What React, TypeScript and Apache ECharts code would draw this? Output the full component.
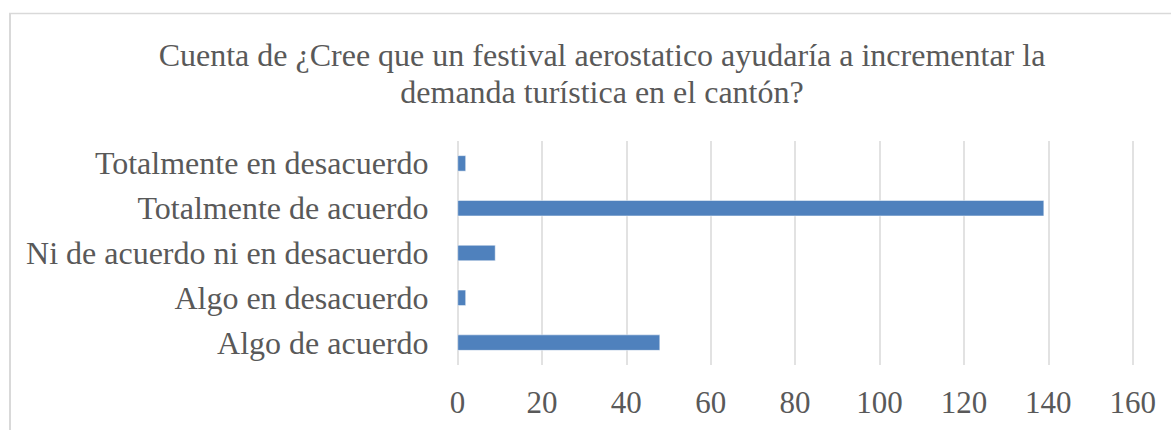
import React, { useEffect, useRef } from "react";
import * as echarts from "echarts";

const titleLines = [
  "Cuenta de ¿Cree que un festival aerostatico ayudaría a incrementar la",
  "demanda turística en el cantón?",
];
const categories = [
  "Totalmente en desacuerdo",
  "Totalmente de acuerdo",
  "Ni de acuerdo ni en desacuerdo",
  "Algo en desacuerdo",
  "Algo de acuerdo",
];
const counts = [2, 139, 9, 2, 48];
const axisMin = 0;
const axisMax = 160;
const axisStep = 20;

const FONT = "'Liberation Serif', 'Times New Roman', serif";
const TEXT = "#595959";
const GRID = "#d9d9d9";

export default function App() {
  const ref = useRef<HTMLDivElement>(null);
  useEffect(() => {
    if (!ref.current) return;
    const chart = echarts.init(ref.current, undefined, { renderer: "svg" });
    chart.setOption({
      animation: false,
      backgroundColor: "#ffffff",
      title: {
        text: titleLines.join("\n"),
        left: 597,
        top: 31,
        textAlign: "center",
        textStyle: {
          fontFamily: FONT,
          fontSize: 32,
          fontWeight: "normal",
          color: TEXT,
          lineHeight: 37,
        },
      },
      graphic: [
        {
          type: "line",
          shape: { x1: 10, y1: 13, x2: 10, y2: 430 },
          style: { stroke: GRID, lineWidth: 2 },
        },
        {
          type: "line",
          shape: { x1: 9, y1: 13.5, x2: 1171, y2: 13.5 },
          style: { stroke: GRID, lineWidth: 1.5 },
        },
      ],
      grid: { left: 457.5, right: 39.3, top: 141, bottom: 65 },
      xAxis: {
        type: "value",
        min: axisMin,
        max: axisMax,
        interval: axisStep,
        axisLine: { show: false },
        axisTick: { show: false },
        splitLine: { show: true, lineStyle: { color: GRID, width: 1.5 } },
        axisLabel: {
          fontFamily: FONT,
          fontSize: 31,
          color: TEXT,
          margin: 22,
        },
      },
      yAxis: {
        type: "category",
        data: categories,
        inverse: true,
        axisLine: { show: false },
        axisTick: { show: false },
        splitLine: { show: false },
        axisLabel: {
          fontFamily: FONT,
          fontSize: 32,
          color: TEXT,
          margin: 29,
        },
      },
      series: [
        {
          type: "bar",
          data: counts,
          barWidth: 16,
          itemStyle: { color: "#4F81BD", borderColor: "#ffffff", borderWidth: 0.5 },
        },
      ],
    });
    return () => chart.dispose();
  }, []);
  return (
    <div
      ref={ref}
      style={{ position: "fixed", left: 0, top: 0, width: 1172, height: 430 }}
    />
  );
}
